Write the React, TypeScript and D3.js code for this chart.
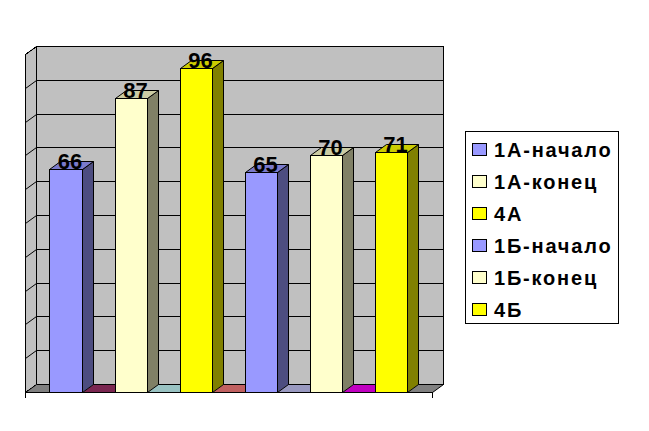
import React from "react";
import * as d3 from "d3";

const categories = ["1А-начало", "1А-конец", "4А", "1Б-начало", "1Б-конец", "4Б"];
const values = [66, 87, 96, 65, 70, 71];
const frontColors = ["#9999ff", "#ffffcc", "#ffff00", "#9999ff", "#ffffcc", "#ffff00"];
const sideColors = ["#4d4d80", "#808066", "#808000", "#4d4d80", "#808066", "#808000"];
const topColors = ["#7a7acc", "#cccca3", "#cccc00", "#7a7acc", "#cccca3", "#cccc00"];
const floorColors = ["#808080", "#7a2650", "#99c2c2", "#c06060", "#9999c0", "#c000c0", "#808080"];
const yTicks = [0, 10, 20, 30, 40, 50, 60, 70, 80, 90, 100];

const DX = 11;
const DY = 8;
const LEFT = 25.5;
const RIGHT = 432.5;

const y = d3.scaleLinear().domain([0, 100]).range([392, 54]);
const x = d3.scaleBand<string>().domain(categories).range([33.6, 424.8]).paddingInner(0.5).paddingOuter(0.25);
const snap = (v: number) => Math.round(v - 0.5) + 0.5;
const snapY = (v: number) => Math.round(v) + 0.5;
const poly = (pts: [number, number][]) => d3.line()(pts)! + "Z";

const legendY = d3.scalePoint<string>().domain(categories).range([149.5, 309.5]);
const FONT = "'Liberation Sans', Arial, sans-serif";

export default function App() {
  const y0 = snapY(y(0));
  const yTop = snapY(y(100));
  const barLeft = categories.map((c) => snap(x(c)!));
  const barRight = barLeft.map((l, i) => l + (i === 0 ? 33 : 32));
  const gapStart = [LEFT, ...barRight];
  const gapEnd = [...barLeft, RIGHT];
  return (
    <svg width={649} height={431} style={{ position: "absolute", left: 0, top: 0, background: "#fff" }}>
      <g stroke="#000" strokeWidth={1} shapeRendering="crispEdges">
        <path d={poly([[LEFT, yTop], [LEFT + DX, yTop - DY], [LEFT + DX, y0 - DY], [LEFT, y0]])} fill="#c0c0c0" />
        <rect x={LEFT + DX} y={yTop - DY} width={RIGHT - LEFT} height={y0 - yTop} fill="#c0c0c0" />
      </g>
      <g stroke="none">
        {floorColors.map((c, i) => (
          <path
            key={i}
            d={poly([[gapStart[i], y0], [gapEnd[i], y0], [gapEnd[i] + DX, y0 - DY], [gapStart[i] + DX, y0 - DY]])}
            fill={c}
          />
        ))}
      </g>
      <g stroke="#000" fill="none">
        {yTicks.map((t) => {
          const gy = snapY(y(t));
          return (
            <g key={t}>
              <line x1={LEFT} y1={gy} x2={LEFT + DX} y2={gy - DY} />
              <line x1={LEFT + DX} y1={gy - DY} x2={RIGHT + DX} y2={gy - DY} shapeRendering="crispEdges" />
            </g>
          );
        })}
        <line x1={RIGHT} y1={y0} x2={RIGHT + DX} y2={y0 - DY} />
      </g>
      <g stroke="#000" strokeWidth={1} strokeLinejoin="miter">
        {categories.map((c, i) => {
          const l = barLeft[i];
          const r = barRight[i];
          const t = snapY(y(values[i]));
          return (
            <g key={c}>
              <path d={poly([[r, t], [r + DX, t - DY], [r + DX, y0 - DY], [r, y0]])} fill={sideColors[i]} />
              <path d={poly([[l, t], [l + DX, t - DY], [r + DX, t - DY], [r, t]])} fill={topColors[i]} />
              <rect x={l} y={t} width={r - l} height={y0 - t} fill={frontColors[i]} shapeRendering="crispEdges" />
            </g>
          );
        })}
      </g>
      <g stroke="#000" shapeRendering="crispEdges">
        <line x1={LEFT} y1={y0} x2={RIGHT} y2={y0} />
        <line x1={LEFT} y1={y0} x2={LEFT} y2={y0 + 5} />
        <line x1={RIGHT} y1={y0} x2={RIGHT} y2={y0 + 5} />
      </g>
      <g fontFamily={FONT} fontSize={22} fontWeight={700} textAnchor="middle" fill="#000">
        {categories.map((c, i) => (
          <text key={c} x={(barLeft[i] + barRight[i]) / 2 + 4} y={snapY(y(values[i])) - 1}>
            {values[i]}
          </text>
        ))}
      </g>
      <rect x={465.5} y={131.5} width={153} height={192} fill="#fff" stroke="#000" shapeRendering="crispEdges" />
      <g fontFamily={FONT} fontSize={20} fontWeight={700} letterSpacing={1.8} fill="#000">
        {categories.map((c, i) => {
          const ly = legendY(c)!;
          return (
            <g key={c}>
              <rect x={472.5} y={ly - 6} width={14} height={12} fill={frontColors[i]} stroke="#000" shapeRendering="crispEdges" />
              <text x={494} y={ly + 7.5}>{c}</text>
            </g>
          );
        })}
      </g>
    </svg>
  );
}
